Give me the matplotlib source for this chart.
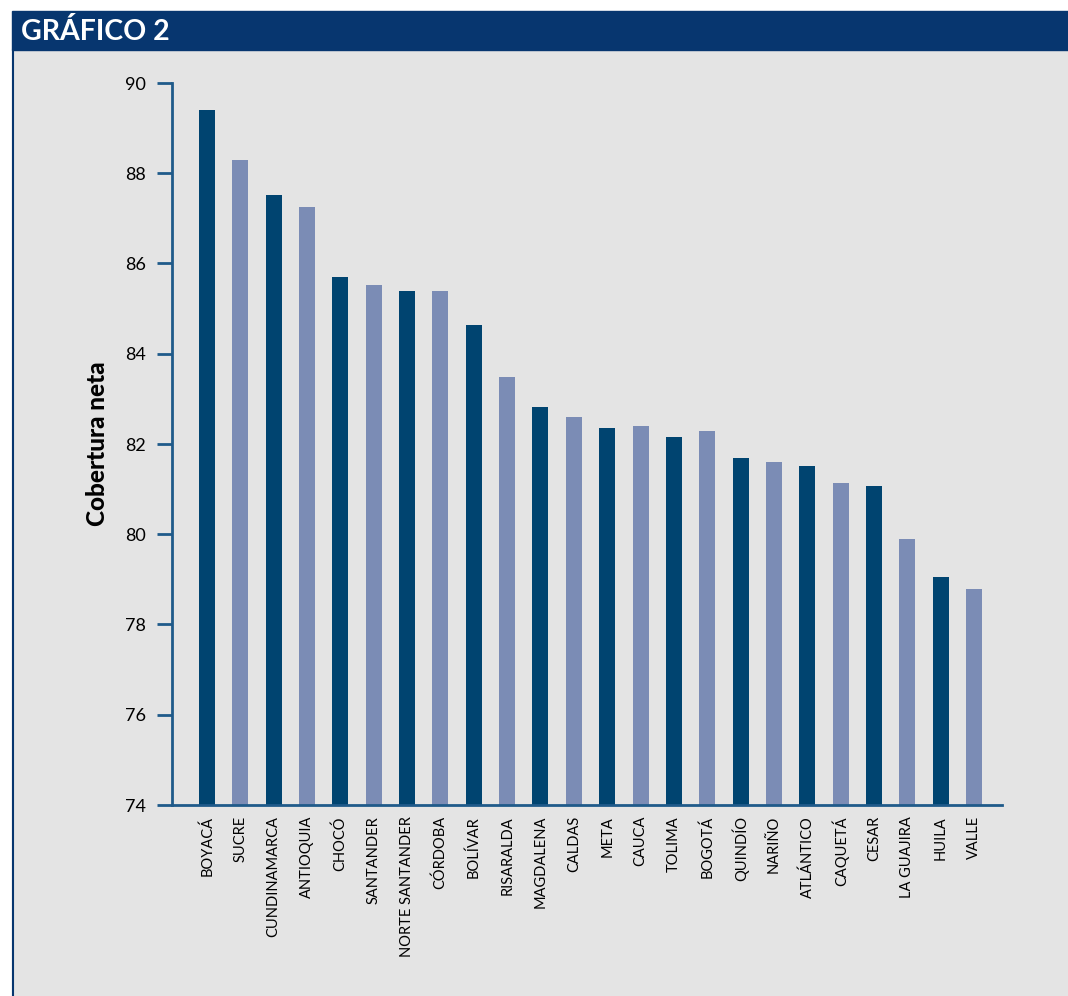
import matplotlib.pyplot as plt
import matplotlib.patches as mpatches
import numpy as np

plt.rcParams["font.family"] = ["Lato", "DejaVu Sans"]

departamentos = [
    "BOYACÁ", "SUCRE", "CUNDINAMARCA", "ANTIOQUIA", "CHOCÓ", "SANTANDER",
    "NORTE SANTANDER", "CÓRDOBA", "BOLÍVAR", "RISARALDA", "MAGDALENA", "CALDAS",
    "META", "CAUCA", "TOLIMA", "BOGOTÁ", "QUINDÍO", "NARIÑO", "ATLÁNTICO",
    "CAQUETÁ", "CESAR", "LA GUAJIRA", "HUILA", "VALLE",
]
cobertura = [
    89.40, 88.29, 87.52, 87.25, 85.70, 85.52, 85.39, 85.39, 84.64, 83.48,
    82.82, 82.60, 82.35, 82.40, 82.16, 82.29, 81.69, 81.60, 81.51, 81.14,
    81.07, 79.89, 79.05, 78.79,
]
yticks = [74, 76, 78, 80, 82, 84, 86, 88, 90]

oscuro = "#004470"
claro = "#7b8cb5"
eje = "#1f5a8a"
fondo = "#e4e4e4"
cabecera = "#07366f"

fig = plt.figure(figsize=(10.68, 9.96), dpi=100)
W, H = 1068, 996

# panel gris y cabecera (detrás de los ejes)
fig.patches.append(mpatches.Rectangle((12 / W, 0), 1 - 12 / W, 1 - 50 / H,
                                      transform=fig.transFigure, color=fondo, zorder=-10))
fig.patches.append(mpatches.Rectangle((12 / W, 1 - 50 / H), 1 - 12 / W, 39 / H,
                                      transform=fig.transFigure, color=cabecera, zorder=-10))
fig.lines.append(plt.Line2D([12.5 / W, 12.5 / W], [0, 1 - 50 / H],
                            transform=fig.transFigure, color=cabecera, lw=1.5, zorder=-9))
fig.text(21 / W, 1 - 31 / H, "GRÁFICO 2", color="white", fontsize=20.5,
         fontweight="bold", va="center", ha="left")

ax = fig.add_axes([172 / W, 1 - 805 / H, (1002 - 172) / W, (805 - 83) / H])
ax.set_facecolor("none")

x = np.arange(len(departamentos))
colores = [oscuro if i % 2 == 0 else claro for i in range(len(departamentos))]
ax.bar(x, np.array(cobertura) - 74, bottom=74, width=0.48, color=colores, zorder=2)

ax.set_ylim(74, 90)
ax.set_xlim(-1.05, 23.84)
ax.set_yticks(yticks)
ax.set_xticks(x)
ax.set_xticklabels(departamentos, rotation=90, fontsize=10.5)
ax.tick_params(axis="x", length=0, pad=8)
ax.tick_params(axis="y", length=11, width=2, color=eje, labelsize=13, pad=8)

for s in ["top", "right"]:
    ax.spines[s].set_visible(False)
for s in ["left", "bottom"]:
    ax.spines[s].set_color(eje)
    ax.spines[s].set_linewidth(2)

ax.set_ylabel("Cobertura neta", fontsize=17.5, fontweight="black", labelpad=11)

fig.savefig("out.png", dpi=100)
